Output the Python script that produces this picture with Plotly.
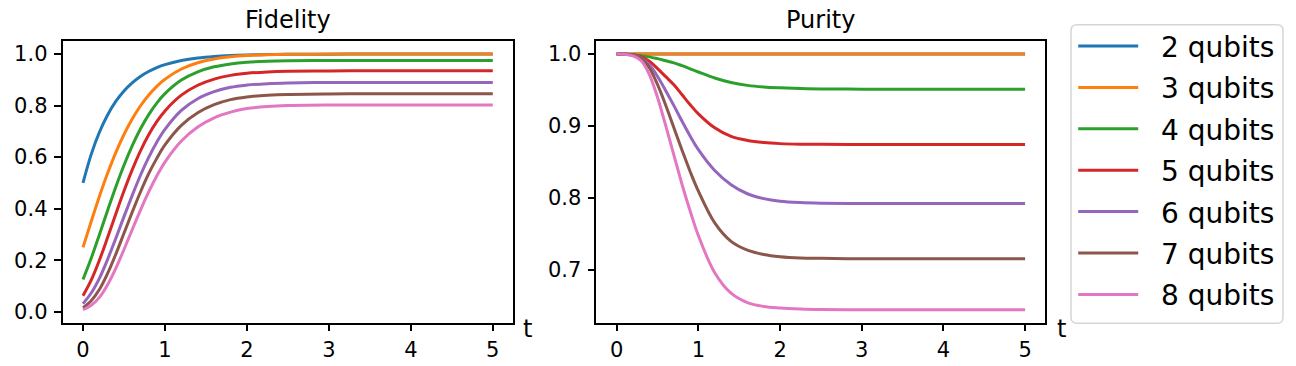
import plotly.graph_objects as go
from plotly.subplots import make_subplots

# time grid shared by every curve
t = [0, 0.1, 0.2, 0.3, 0.4, 0.5, 0.6, 0.7, 0.8, 0.9, 1.0, 1.2, 1.4, 1.6,
     1.8, 2.0, 2.25, 2.5, 3.0, 3.5, 4.0, 5.0]

labels = ["2 qubits", "3 qubits", "4 qubits", "5 qubits", "6 qubits", "7 qubits", "8 qubits"]

# fidelity values
fid_2 = [0.5, 0.6106, 0.6967, 0.7638, 0.8161, 0.8568, 0.8884, 0.9131, 0.9323, 0.9473, 0.959,
         0.9751, 0.9849, 0.9908, 0.9944, 0.9966, 0.9982, 0.999, 0.9997, 0.9999, 1.0, 1.0]
fid_3 = [0.25, 0.3503, 0.4474, 0.5371, 0.6176, 0.6878, 0.7479, 0.7984, 0.8403, 0.8746, 0.9022,
         0.942, 0.9665, 0.9812, 0.9897, 0.9945, 0.9976, 0.999, 0.9998, 1.0, 1.0, 1.0]
fid_4 = [0.125, 0.2073, 0.2991, 0.3932, 0.4844, 0.5686, 0.6437, 0.7091, 0.7641, 0.8095, 0.8462,
         0.8989, 0.9311, 0.9505, 0.9618, 0.9682, 0.9721, 0.9739, 0.975, 0.9752, 0.9752, 0.9752]
fid_5 = [0.0625, 0.1227, 0.2, 0.288, 0.3794, 0.4683, 0.5504, 0.6237, 0.6859, 0.7375, 0.7794,
         0.8405, 0.8789, 0.9029, 0.9172, 0.9253, 0.9306, 0.9331, 0.9346, 0.9349, 0.9349, 0.9349]
fid_6 = [0.03125, 0.0726, 0.1298, 0.2029, 0.2844, 0.3692, 0.4512, 0.5288, 0.5983, 0.6582, 0.7079,
         0.7813, 0.8266, 0.8539, 0.8709, 0.8795, 0.8852, 0.8879, 0.8896, 0.8899, 0.8899, 0.8899]
fid_7 = [0.0156, 0.043, 0.0864, 0.1485, 0.2232, 0.3044, 0.3861, 0.4638, 0.5348, 0.5952, 0.6474,
         0.7233, 0.7723, 0.8034, 0.8231, 0.8334, 0.84, 0.8433, 0.8452, 0.8456, 0.8456, 0.8456]
fid_8 = [0.0078, 0.025, 0.0558, 0.1051, 0.1684, 0.2416, 0.3182, 0.3936, 0.4642, 0.527, 0.581,
         0.6626, 0.717, 0.7527, 0.7747, 0.7887, 0.7964, 0.7999, 0.802, 0.8025, 0.8025, 0.8025]

# purity values
pur_2 = [1.0, 1.0, 1.0, 1.0, 1.0, 1.0, 1.0, 1.0, 1.0, 1.0, 1.0,
         1.0, 1.0, 1.0, 1.0, 1.0, 1.0, 1.0, 1.0, 1.0, 1.0, 1.0]
pur_3 = [1.0, 1.0, 1.0, 1.0, 1.0, 1.0, 1.0, 1.0, 1.0, 1.0, 1.0,
         1.0, 1.0, 1.0, 1.0, 1.0, 1.0, 1.0, 1.0, 1.0, 1.0, 1.0]
pur_4 = [1.0, 0.9998, 0.9991, 0.9978, 0.9961, 0.9936, 0.9907, 0.9878, 0.9838, 0.9794, 0.975,
         0.9667, 0.9603, 0.9564, 0.9542, 0.953, 0.952, 0.9515, 0.9511, 0.951, 0.951, 0.951]
pur_5 = [1.0, 0.9999, 0.999, 0.9962, 0.9899, 0.9798, 0.9685, 0.9572, 0.9433, 0.9294, 0.9168,
         0.8973, 0.8853, 0.8797, 0.8768, 0.8753, 0.8745, 0.8743, 0.874, 0.874, 0.874, 0.874]
pur_6 = [1.0, 0.9998, 0.9985, 0.9946, 0.985, 0.9688, 0.949, 0.9282, 0.9064, 0.8856, 0.8669,
         0.8378, 0.818, 0.8055, 0.7987, 0.7951, 0.7932, 0.7924, 0.792, 0.792, 0.792, 0.792]
pur_7 = [1.0, 0.9997, 0.9983, 0.9937, 0.9806, 0.9573, 0.9288, 0.8974, 0.8661, 0.8361, 0.8091,
         0.7649, 0.7392, 0.727, 0.721, 0.7179, 0.7161, 0.7156, 0.715, 0.715, 0.715, 0.715]
pur_8 = [1.0, 0.9996, 0.9975, 0.9907, 0.9715, 0.9395, 0.9003, 0.8594, 0.8184, 0.7811, 0.7472,
         0.6956, 0.6671, 0.654, 0.6486, 0.6465, 0.6451, 0.6444, 0.644, 0.644, 0.644, 0.644]

fidelity = [fid_2, fid_3, fid_4, fid_5, fid_6, fid_7, fid_8]
purity = [pur_2, pur_3, pur_4, pur_5, pur_6, pur_7, pur_8]

colors = ["#1f77b4", "#ff7f0e", "#2ca02c", "#d62728", "#9467bd", "#8c564b", "#e377c2"]
FONT = "DejaVu Sans"
W, H = 1296, 366

fig = make_subplots(rows=1, cols=2)

for i, name in enumerate(labels):
    fig.add_trace(go.Scatter(
        x=t, y=fidelity[i], mode="lines", name="\u00a0\u00a0" + name,
        line=dict(color=colors[i], width=3, shape="spline"),
        legendgroup=name, showlegend=True,
    ), row=1, col=1)
for i, name in enumerate(labels):
    fig.add_trace(go.Scatter(
        x=t, y=purity[i], mode="lines", name=name,
        line=dict(color=colors[i], width=3, shape="spline"),
        legendgroup=name, showlegend=False,
    ), row=1, col=2)


def padded(values, frac=0.05):
    lo, hi = min(values), max(values)
    span = hi - lo
    return [lo - frac * span, hi + frac * span]


all_fid = [v for s in fidelity for v in s]
all_pur = [v for s in purity for v in s]

axis_common = dict(
    showline=True, mirror=True, linecolor="black", linewidth=1.6,
    ticks="outside", ticklen=7, tickwidth=1.6, tickcolor="black",
    showgrid=False, zeroline=False,
)

fig.update_xaxes(range=[-0.25, 5.25], tickvals=[0, 1, 2, 3, 4, 5], **axis_common)
fig.update_xaxes(domain=[0.04823, 0.39606], row=1, col=1)
fig.update_xaxes(domain=[0.46011, 0.80671], row=1, col=2)
fig.update_yaxes(domain=[0.11393, 0.88661], tickformat=".1f", ticklabelstandoff=2, **axis_common)
fig.update_yaxes(range=padded(all_fid), tickvals=[0, 0.2, 0.4, 0.6, 0.8, 1.0], row=1, col=1)
fig.update_yaxes(range=padded(all_pur), tickvals=[0.7, 0.8, 0.9, 1.0], row=1, col=2)
fig.update_xaxes(tickfont_family=FONT, tickfont_size=21, tickfont_color="black")
fig.update_yaxes(tickfont_family=FONT, tickfont_size=21, tickfont_color="black")

title_font = dict(family=FONT, size=24, color="black")
annotations = [
    dict(text="Fidelity", x=0.22215, y=0.945, font=title_font),
    dict(text="Purity", x=0.63341, y=0.945, font=title_font),
    dict(text="t", x=0.4074, y=0.0956, font=title_font),
    dict(text="t", x=0.8189, y=0.0956, font=title_font),
]
for a in annotations:
    a.update(xref="paper", yref="paper", xanchor="center", yanchor="middle", showarrow=False)


def legend_frame(x0, y0, x1, y1, r):
    # rounded legend frame, pixel corners converted to paper coordinates
    px = lambda v: v / W
    py = lambda v: 1 - v / H
    pts = [
        f"M {px(x0 + r)},{py(y0)}", f"L {px(x1 - r)},{py(y0)}",
        f"Q {px(x1)},{py(y0)} {px(x1)},{py(y0 + r)}", f"L {px(x1)},{py(y1 - r)}",
        f"Q {px(x1)},{py(y1)} {px(x1 - r)},{py(y1)}", f"L {px(x0 + r)},{py(y1)}",
        f"Q {px(x0)},{py(y1)} {px(x0)},{py(y1 - r)}", f"L {px(x0)},{py(y0 + r)}",
        f"Q {px(x0)},{py(y0)} {px(x0 + r)},{py(y0)}", "Z",
    ]
    return dict(type="path", xref="paper", yref="paper", path=" ".join(pts),
                line=dict(color="#d6d6d6", width=1.5), fillcolor="white", layer="below")


fig.update_layout(
    width=W, height=H,
    margin=dict(l=0, r=0, t=0, b=0),
    paper_bgcolor="white", plot_bgcolor="white",
    font=dict(family=FONT, size=21, color="black"),
    annotations=annotations,
    shapes=[legend_frame(1071, 25, 1283, 325, 6)],
    legend=dict(
        x=0.8281, y=0.9415, xanchor="left", yanchor="top",
        font=dict(family=FONT, size=28, color="black"),
        borderwidth=0, bgcolor="rgba(0,0,0,0)",
        itemwidth=60, tracegroupgap=2, traceorder="grouped",
    ),
)

fig.write_html("out.html", config={"displayModeBar": False},
               post_script="document.body.style.margin='0';")
